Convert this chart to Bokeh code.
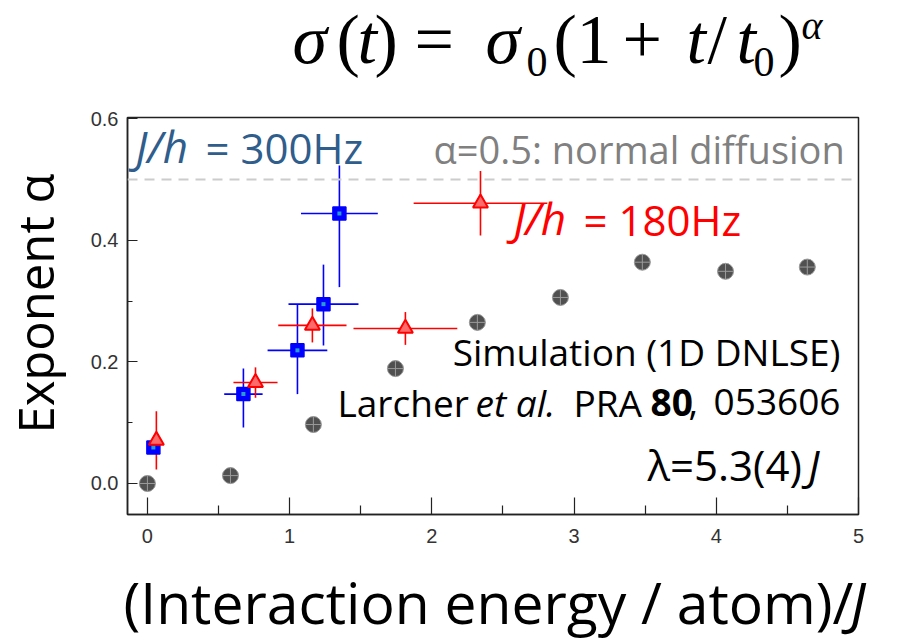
import math
from bokeh.plotting import figure
from bokeh.layouts import column, row
from bokeh.models import Label, Span, Range1d, FixedTicker, ColumnDataSource
from bokeh.embed import file_html
from bokeh.resources import INLINE

# ---- data ----
sim_x = [0.0, 0.584, 1.167, 1.744, 2.32, 2.904, 3.48, 4.065, 4.64]
sim_y = [0.0, 0.013, 0.097, 0.189, 0.265, 0.306, 0.364, 0.349, 0.356]

hz300_x = [0.042, 0.675, 1.055, 1.238, 1.35]
hz300_y = [0.059, 0.147, 0.219, 0.295, 0.444]
hz300_xerr = [0.0, 0.135, 0.21, 0.246, 0.27]
hz300_yerr_up = [0.0, 0.042, 0.076, 0.065, 0.079]
hz300_yerr_dn = [0.0, 0.055, 0.072, 0.068, 0.121]

hz180_x = [0.063, 0.76, 1.16, 1.814, 2.342]
hz180_y = [0.071, 0.166, 0.26, 0.255, 0.461]
hz180_xerr = [0.02, 0.155, 0.24, 0.365, 0.47]
hz180_yerr = [0.048, 0.025, 0.028, 0.027, 0.053]

x_ticks = [0, 1, 2, 3, 4, 5]
x_minor = [0.5, 1.5, 2.5, 3.5, 4.5]
y_ticks = [0.0, 0.2, 0.4, 0.6]
y_minor = [0.1, 0.3, 0.5]
normal_diffusion = 0.5

# ---- layout constants (canvas px) ----
W, H = 899, 640
TOP_H = 98           # formula strip
LEFT_W = 70          # y-title strip
MAIN_BOTTOM = 560    # bottom of main figure on canvas
FL, FR, FT, FB = 127, 858, 117, 514   # frame box on canvas

MAIN_W = W - LEFT_W
MAIN_H = MAIN_BOTTOM - TOP_H


def blank(w, h):
    f = figure(width=w, height=h, output_backend="svg", toolbar_location=None,
               x_range=Range1d(0, w), y_range=Range1d(0, h),
               x_axis_type=None, y_axis_type=None,
               min_border_left=0, min_border_right=0,
               min_border_top=0, min_border_bottom=0)
    f.outline_line_color = None
    f.background_fill_color = "white"
    f.border_fill_color = "white"
    return f


p = figure(width=MAIN_W, height=MAIN_H, output_backend="svg", toolbar_location=None,
           x_range=Range1d(-0.14, 5.0), y_range=Range1d(-0.051, 0.602),
           min_border_left=FL - LEFT_W, min_border_right=W - FR,
           min_border_top=FT - TOP_H, min_border_bottom=MAIN_BOTTOM - FB)
p.grid.visible = False
p.background_fill_color = "white"
p.border_fill_color = "white"
p.outline_line_color = "#222222"
p.outline_line_width = 1.5

for ax in (p.xaxis[0], p.yaxis[0]):
    ax.axis_line_color = "#222222"
    ax.axis_line_width = 1.5
    ax.major_tick_line_color = "#222222"
    ax.minor_tick_line_color = "#222222"
    ax.major_tick_line_width = 1.2
    ax.minor_tick_line_width = 1.2
    ax.major_tick_out = 0
    ax.minor_tick_out = 0
    ax.major_label_text_font = "Liberation Sans"
    ax.major_label_text_font_size = "20px"
    ax.major_label_text_color = "#333333"

p.xaxis.ticker = FixedTicker(ticks=x_ticks, minor_ticks=x_minor)
p.yaxis.ticker = FixedTicker(ticks=y_ticks, minor_ticks=y_minor)
p.xaxis.major_tick_in = 17
p.xaxis.minor_tick_in = 9
p.yaxis.major_tick_in = 10
p.yaxis.minor_tick_in = 5
p.xaxis.major_label_standoff = 14
p.yaxis.major_label_standoff = 9
p.xaxis.major_label_overrides = {0: "0", 1: "1", 2: "2", 3: "3", 4: "4", 5: "5"}
p.yaxis.major_label_overrides = {0.0: "0.0", 0.2: "0.2", 0.4: "0.4", 0.6: "0.6"}

# dashed reference line
p.add_layout(Span(location=normal_diffusion, dimension="width",
                  line_color="#cccccc", line_width=2, line_dash="10 7"))

# simulation points
p.scatter(sim_x, sim_y, marker="circle_cross", size=16,
          fill_color="#505050", line_color="#9a9a9a", line_width=1)

# 300 Hz error bars
s300 = ColumnDataSource(dict(
    x=hz300_x, y=hz300_y,
    x0=[a - b for a, b in zip(hz300_x, hz300_xerr)],
    x1=[a + b for a, b in zip(hz300_x, hz300_xerr)],
    y0=[a - b for a, b in zip(hz300_y, hz300_yerr_dn)],
    y1=[a + b for a, b in zip(hz300_y, hz300_yerr_up)],
))
p.segment(x0="x0", y0="y", x1="x1", y1="y", source=s300, line_color="#0000ff", line_width=1.6)
p.segment(x0="x", y0="y0", x1="x", y1="y1", source=s300, line_color="#0000ff", line_width=1.6)

# 180 Hz error bars
s180 = ColumnDataSource(dict(
    x=hz180_x, y=hz180_y,
    x0=[a - b for a, b in zip(hz180_x, hz180_xerr)],
    x1=[a + b for a, b in zip(hz180_x, hz180_xerr)],
    y0=[a - b for a, b in zip(hz180_y, hz180_yerr)],
    y1=[a + b for a, b in zip(hz180_y, hz180_yerr)],
))
p.segment(x0="x0", y0="y", x1="x1", y1="y", source=s180, line_color="#ff0000", line_width=1.6)
p.segment(x0="x", y0="y0", x1="x", y1="y1", source=s180, line_color="#ff0000", line_width=1.6)

# markers
p.scatter("x", "y", source=s300, marker="square", size=13,
          fill_color="#0000ff", line_color="#0000ff", line_width=1.5)
p.scatter("x", "y", source=s300, marker="square", size=4,
          fill_color="#2a9bd0", line_color=None)
p.scatter("x", "y", source=s180, marker="triangle", size=15,
          fill_color="#ff6b6b", line_color="#ff0000", line_width=2)

top = blank(W, TOP_H)
left = blank(LEFT_W, MAIN_H)
bottom = blank(W, H - MAIN_BOTTOM)

SERIF = "Liberation Serif"


# ---- text helper: position in canvas pixels (baseline) ----
def lab(fig, fx0, fy1, px, py, text, size, color="black", style="normal",
        font="Open Sans", align="left", angle=0.0):
    k = 0.40 if font == SERIF else 0.44
    shift = k * size          # compensate for how the label baseline is placed
    if angle:
        px = px - shift
    else:
        py = py - shift
    fig.add_layout(Label(x=px - fx0, y=fy1 - py, x_units="screen", y_units="screen",
                         text=text, text_font=font, text_font_size=f"{size}px",
                         text_font_style=style, text_color=color,
                         text_align=align, text_baseline="alphabetic", angle=angle))


def m(*a, **k):
    lab(p, FL, FB, *a, **k)


BLUE_T = "#2f5d8c"
RED_T = "#ff0000"
GRAY_T = "#808080"

# in-plot annotations
m(135, 165, "J/h", 44, BLUE_T, "italic")
m(205, 165, "= 300Hz", 42, BLUE_T)
m(433, 165, "α=0.5: normal diffusion", 38, GRAY_T)
m(513, 237, "J/h", 44, RED_T, "italic")
m(583, 237, "= 180Hz", 42, RED_T)

m(840, 367, "Simulation (1D DNLSE)", 37, align="right")
m(337, 418, "Larcher", 37)
m(475, 418, "et al.", 37, style="italic")
m(573, 418, "PRA", 37)
m(650, 418, "80", 37, style="bold")
m(688, 418, ",", 37)
m(840, 418, "053606", 37, align="right")
m(647, 482, "λ=5.3(4)", 42)
m(819, 482, "J", 42, style="italic", align="right")

# axis titles
lab(bottom, 0, H, 853, 627, "(Interaction energy / atom)/", 57, align="right")
lab(bottom, 0, H, 850, 627, "J", 57, style="italic")
lab(left, 0, MAIN_BOTTOM, 56, 349, "Exponent α", 49, align="center", angle=math.pi / 2)

# formula title
F = 70
FS = 42


def t(px, py, text, size=F, style="normal"):
    lab(top, 0, TOP_H, px, py, text, size, style=style, font=SERIF)


t(292, 67, "σ", style="italic")
t(336, 67, "(")
t(357, 67, "t", style="italic")
t(374, 67, ")")
t(414, 67, "=")
t(485, 67, "σ", style="italic")
t(526, 78, "0", FS)
t(553, 67, "(")
t(576, 67, "1")
t(622, 67, "+")
t(686, 67, "t", style="italic")
t(707, 67, "/")
t(736, 67, "t", style="italic")
t(753, 78, "0", FS)
t(778, 67, ")")
t(801, 41, "α", 40, style="italic")

layout = column(top, row(left, p), bottom)
open("out.html", "w").write(file_html(layout, INLINE))
